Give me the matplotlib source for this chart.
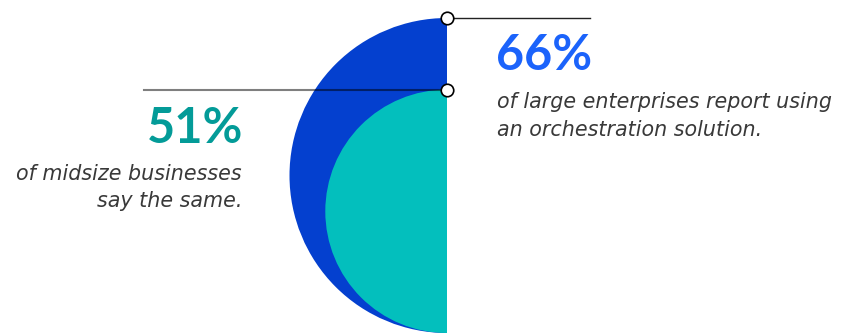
import matplotlib.pyplot as plt
from matplotlib.patches import Wedge

# share of companies using an orchestration solution
labels = ['large enterprises', 'midsize businesses']
values = [66, 51]
colors = ['#0440cf', '#03bfbd']
text_colors = ['#1b63fb', '#039b98']

W, H = 843, 333
fig = plt.figure(figsize=(W / 100, H / 100), dpi=100)
ax = fig.add_axes([0, 0, 1, 1])
ax.set_xlim(0, W)
ax.set_ylim(H, 0)
ax.axis('off')

# half discs stand on a common base, radius proportional to the value
cx, base = 447, 333
px_per_pct = 157.5 / 66
tops = []
for v, c in zip(values, colors):
    r = v * px_per_pct
    ax.add_patch(Wedge((cx, base - r), r, 90, 270, facecolor=c, edgecolor='none', zorder=1))
    tops.append(base - 2 * r)

# leader lines and markers
ax.plot([cx, 590], [tops[0], tops[0]], color='#222222', lw=1.0, zorder=2)
ax.plot([144, cx], [tops[1], tops[1]], color='black', alpha=0.5, lw=1.5, zorder=2)
ax.plot([cx, cx], tops, ls='none', marker='o', ms=9, mfc='white', mec='black', mew=1.2, zorder=3)

bold = dict(family='Lato', weight='bold', fontsize=35)
body = dict(family='DejaVu Sans', style='italic', fontsize=14.9, color='#393939')

ax.text(496, 70, f'{values[0]}%', color=text_colors[0], ha='left', va='baseline', **bold)
ax.text(497, 108.5, 'of large enterprises report using', ha='left', va='baseline', **body)
ax.text(497, 135.5, 'an orchestration solution.', ha='left', va='baseline', **body)

ax.text(243, 143, f'{values[1]}%', color=text_colors[1], ha='right', va='baseline', **bold)
ax.text(242, 180.5, 'of midsize businesses', ha='right', va='baseline', **body)
ax.text(242, 207, 'say the same.', ha='right', va='baseline', **body)

fig.savefig('out.png', dpi=100)
